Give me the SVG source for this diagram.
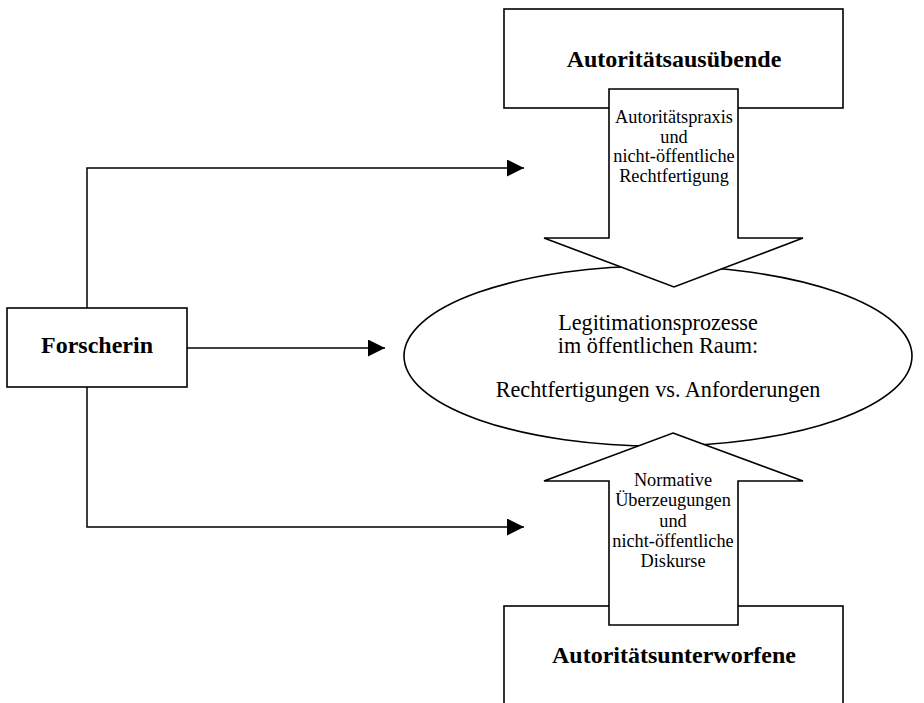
<svg xmlns="http://www.w3.org/2000/svg" width="924" height="703" viewBox="0 0 924 703">
<style>
.shape{fill:#fff;stroke:#000;stroke-width:1.6}
.line{fill:none;stroke:#000;stroke-width:1.5}
.bold{font-family:"Liberation Serif","Times New Roman",serif;font-weight:bold;font-size:24px;text-anchor:middle;fill:#000}
.reg{font-family:"Liberation Serif","Times New Roman",serif;font-size:18.3px;text-anchor:middle;fill:#000}
.big{font-family:"Liberation Serif","Times New Roman",serif;font-size:22.2px;text-anchor:middle;fill:#000}
</style>
<defs>
<marker id="ah" markerUnits="userSpaceOnUse" markerWidth="17" markerHeight="17" refX="17" refY="8.5" orient="auto">
<path d="M0,0 L17,8.5 L0,17 z" fill="#000"/>
</marker>
</defs>
<rect width="924" height="703" fill="#fff"/>
<g id="ausuebende">
<rect class="shape" x="504" y="9" width="339" height="99"/>
<text class="bold" x="674" y="67">Autoritätsausübende</text>
</g>
<g id="unterworfene">
<rect class="shape" x="504" y="606" width="339" height="130"/>
<text class="bold" x="674" y="663">Autoritätsunterworfene</text>
</g>
<g id="legitimation">
<ellipse class="shape" cx="658" cy="356" rx="254" ry="90"/>
<text class="big" x="658" y="330">Legitimationsprozesse</text>
<text class="big" x="658" y="353">im öffentlichen Raum:</text>
<text class="big" x="658" y="397">Rechtfertigungen vs. Anforderungen</text>
</g>
<g id="pfeil-runter">
<polygon class="shape" points="609,89 738,89 738,238 803,238 674,287 544,238 609,238"/>
<text class="reg" x="674" y="123">Autoritätspraxis</text>
<text class="reg" x="674" y="142.5">und</text>
<text class="reg" x="674" y="162">nicht-öffentliche</text>
<text class="reg" x="674" y="181.5">Rechtfertigung</text>
</g>
<g id="pfeil-hoch">
<polygon class="shape" points="673,433 803,481 738,481 738,625 609,625 609,481 544,481"/>
<text class="reg" x="673" y="486">Normative</text>
<text class="reg" x="673" y="506">Überzeugungen</text>
<text class="reg" x="673" y="526.5">und</text>
<text class="reg" x="673" y="547">nicht-öffentliche</text>
<text class="reg" x="673" y="567">Diskurse</text>
</g>
<g id="forscherin">
<rect class="shape" x="7" y="308" width="180" height="79"/>
<text class="bold" x="97" y="353">Forscherin</text>
</g>
<g id="connectors">
<path class="line" d="M87,308 V168 H524" marker-end="url(#ah)"/>
<path class="line" d="M187,348 H385" marker-end="url(#ah)"/>
<path class="line" d="M87,387 V527 H524" marker-end="url(#ah)"/>
</g>
</svg>
